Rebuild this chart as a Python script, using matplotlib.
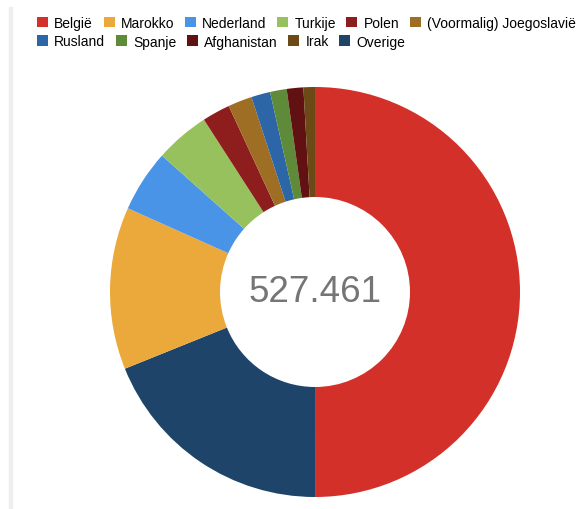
import matplotlib
matplotlib.use("Agg")
import matplotlib.pyplot as plt
from matplotlib.patches import Patch, Rectangle

plt.rcParams['font.family'] = ['Liberation Sans', 'DejaVu Sans']

# data (clockwise from top)
labels = ["België", "Overige", "Marokko", "Nederland", "Turkije", "Polen",
          "(Voormalig) Joegoslavië", "Rusland", "Spanje", "Afghanistan", "Irak"]
values = [263700, 99700, 67500, 25800, 22700, 11600, 10000, 7900, 6900, 6900, 4761]
colors = ["#d3302a", "#1e4469", "#eba93c", "#4a94e8", "#97c15c", "#8e1e1d",
          "#9d6e24", "#2d66a6", "#5e8a3a", "#621112", "#6b4a15"]
legend_row1 = ["België", "Marokko", "Nederland", "Turkije", "Polen", "(Voormalig) Joegoslavië"]
legend_row2 = ["Rusland", "Spanje", "Afghanistan", "Irak", "Overige"]
total_label = "527.461"

W, H = 578, 510
fig = plt.figure(figsize=(W / 100, H / 100), dpi=100)
ax = fig.add_axes([0, 0, 1, 1])

cx, cy, r = 315, H - 293, 205
ax.pie(values, colors=colors, startangle=90, counterclock=False,
       center=(cx, cy), radius=r,
       wedgeprops=dict(width=r - 95, edgecolor='none'))
ax.set_xlim(0, W)
ax.set_ylim(0, H)
ax.set_aspect('auto')
ax.axis('off')

ax.text(cx + 0.5, cy, total_label, ha='center', va='center', fontsize=26.5, color='#757575')

# left gray bar
fig.patches.append(Rectangle((9 / W, 0), 3 / W, (H - 8) / H, transform=fig.transFigure,
                             color='#eeeeee', zorder=0))

cmap = dict(zip(labels, colors))
common = dict(frameon=False, fontsize=10, handlelength=0.8, handleheight=0.8,
              handletextpad=0.45, columnspacing=0.75, borderpad=0, borderaxespad=0,
              loc='center left')
h1 = [Patch(facecolor=cmap[l], edgecolor='none') for l in legend_row1]
h2 = [Patch(facecolor=cmap[l], edgecolor='none') for l in legend_row2]
leg1 = fig.legend(h1, legend_row1, ncol=len(h1), bbox_to_anchor=(37 / W, 1 - 24 / H), **common)
leg2 = fig.legend(h2, legend_row2, ncol=len(h2), bbox_to_anchor=(37 / W, 1 - 42.5 / H), **common)

fig.savefig("out.png", dpi=100)
